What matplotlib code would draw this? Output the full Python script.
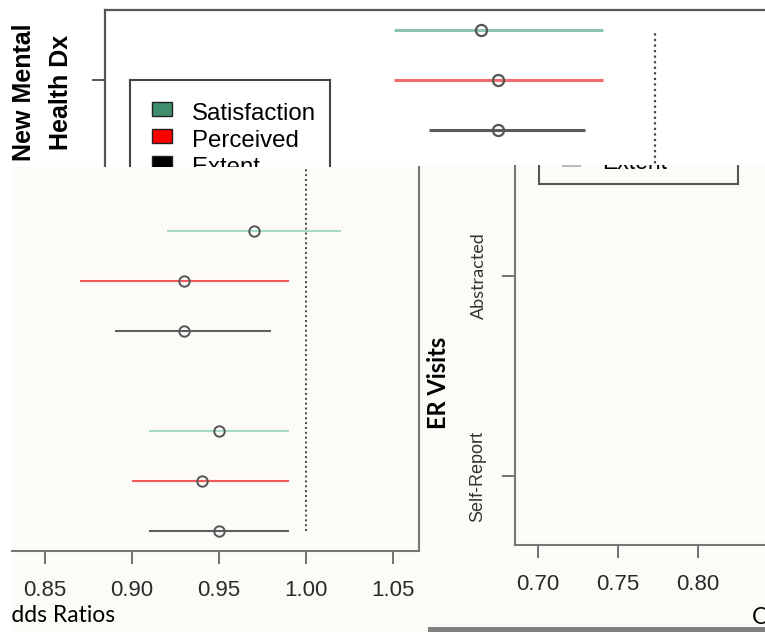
import matplotlib
matplotlib.use('Agg')
import matplotlib.pyplot as plt
from matplotlib.patches import Rectangle

# measures and their colours
measures = ['Satisfaction', 'Perceived', 'Extent']
line_cols = ['#8cc6ac', '#f26b6b', '#5a5a5a']
line_cols_low = ['#a3dbc6', '#f25a5a', '#5e5e5e']
legend_cols = ['#3f8f6f', '#ff0000', '#000000']

# New Mental Health Dx (top strip)
top_pos = [3, 2, 1]
top_or = [0.90, 0.91, 0.91]
top_lo = [0.85, 0.85, 0.87]
top_hi = [0.97, 0.97, 0.96]

# lower-left strip, two groups of three
left_pos = [7, 6, 5, 3, 2, 1]
left_or = [0.97, 0.93, 0.93, 0.95, 0.94, 0.95]
left_lo = [0.92, 0.87, 0.89, 0.91, 0.90, 0.91]
left_hi = [1.02, 0.99, 0.98, 0.99, 0.99, 0.99]
left_ticks = [0.85, 0.90, 0.95, 1.00, 1.05]

# ER visits strip
er_pos = [2, 1]
er_labels = ['Abstracted', 'Self-Report']
er_ticks = [0.70, 0.75, 0.80]

W, H = 765, 632
OFF = '#fcfbf7'
ARIAL = 'Liberation Sans'
CALIBRI = 'Lato'


def box(l, t, r, b):
    return [l / W, 1 - b / H, (r - l) / W, (b - t) / H]


def bare(ax):
    ax.set_xticks([])
    ax.set_yticks([])
    for s in ax.spines.values():
        s.set_visible(False)


fig = plt.figure(figsize=(W / 100, H / 100), dpi=100)
fig.patch.set_facecolor('white')

# ---- top strip --------------------------------------------------------
ax_top = fig.add_axes(box(105, 10, 800, 180), zorder=1)
for i in range(3):
    ax_top.plot([top_lo[i], top_hi[i]], [top_pos[i]] * 2, color=line_cols[i], lw=2.2, solid_capstyle='butt')
    ax_top.plot(top_or[i], top_pos[i], 'o', ms=8, mfc='none', mec='#555555', mew=1.6)
ax_top.vlines(1.0, 0, top_pos[0], colors='#444444', linestyles=(0, (1, 1.5)), lw=1.6)
ax_top.set_xlim(1 - 550 / 1740, 1 + 145 / 1740)
ax_top.set_ylim(0, 3.4)
ax_top.set_xticks([])
ax_top.set_yticks([2])
ax_top.set_yticklabels([])
ax_top.tick_params(axis='y', length=9.4, width=1.4, color='#555555')
for s in ['right', 'bottom']:
    ax_top.spines[s].set_visible(False)
for s in ['left', 'top']:
    ax_top.spines[s].set_color('#555555')
    ax_top.spines[s].set_linewidth(1.6)

fig.text(24 / W, 1 - 92 / H, 'New Mental', rotation=90, ha='center', va='center',
         fontsize=18, fontweight='bold', family=ARIAL)
fig.text(61 / W, 1 - 92 / H, 'Health Dx', rotation=90, ha='center', va='center',
         fontsize=18, fontweight='bold', family=ARIAL)

# legend box of the top strip
ax_leg = fig.add_axes(box(130, 80, 330, 230), zorder=1.5)
ax_leg.set_xlim(0, 200)
ax_leg.set_ylim(150, 0)
ax_leg.set_xticks([])
ax_leg.set_yticks([])
ax_leg.spines['bottom'].set_visible(False)
for s in ['left', 'top', 'right']:
    ax_leg.spines[s].set_color('#444444')
    ax_leg.spines[s].set_linewidth(1.5)
for i, name in enumerate(measures):
    yb = 40 + 27 * i
    ax_leg.add_patch(Rectangle((22, yb - 18), 20, 14, facecolor=legend_cols[i], edgecolor='#222222', lw=1))
    ax_leg.text(62, yb, name, fontsize=17.3, family=ARIAL, va='baseline', ha='left')

# ---- backgrounds of the lower screenshots ------------------------------
bg_left = fig.add_axes(box(12, 167, 419, 632), zorder=2)
bg_left.set_facecolor(OFF)
bare(bg_left)
bg_left.set_xlim(12, 419)
bg_left.set_ylim(632, 167)
t = bg_left.text(-7, 616, 'Odds Ratios', fontsize=16.5, family=CALIBRI, ha='left', va='center',
                 clip_on=True)
t.set_clip_path(bg_left.patch)

bg_right = fig.add_axes(box(419, 165, 765, 632), zorder=2)
bg_right.set_facecolor(OFF)
bare(bg_right)
bg_right.set_xlim(419, 765)
bg_right.set_ylim(632, 165)
bg_right.add_patch(Rectangle((539, 140), 199, 44, facecolor='none', edgecolor='#555555', lw=1.5, clip_on=True))
bg_right.plot([563, 580], [166.5, 166.5], color='#bbbbbb', lw=1.5, clip_on=True)
t = bg_right.text(602, 169, 'Extent', fontsize=16.5, family=ARIAL, va='baseline', ha='left',
                  clip_on=True)
t.set_clip_path(bg_right.patch)

# ---- lower-left forest strip --------------------------------------------
ax_left = fig.add_axes(box(12, 167, 419, 551), zorder=3)
ax_left.set_facecolor('none')
for i in range(6):
    c = line_cols_low[i % 3]
    ax_left.plot([left_lo[i], left_hi[i]], [left_pos[i]] * 2, color=c, lw=1.5, solid_capstyle='butt')
    ax_left.plot(left_or[i], left_pos[i], 'o', ms=7.5, mfc='none', mec='#555555', mew=1.4)
ax_left.vlines(1.0, left_pos[-1], 8.3, colors='#444444', linestyles=(0, (1, 1.5)), lw=1.4)
ax_left.set_xlim(0.85 - 33 / 1740, 0.85 + 374 / 1740)
ax_left.set_ylim(0.6, 8.28)
ax_left.set_yticks([])
ax_left.set_xticks(left_ticks)
ax_left.set_xticklabels(['%.2f' % v for v in left_ticks], family=ARIAL, fontsize=16, color='#2a2a2a')
ax_left.tick_params(axis='x', length=9.4, width=1.3, color='#666666', pad=11.5)
for s in ['left', 'top']:
    ax_left.spines[s].set_visible(False)
for s in ['right', 'bottom']:
    ax_left.spines[s].set_color('#777777')
    ax_left.spines[s].set_linewidth(1.5)

# ---- ER visits strip -----------------------------------------------------
ax_er = fig.add_axes(box(515, 166, 800, 545), zorder=3)
ax_er.set_facecolor('none')
ax_er.set_xlim(0.70 - 25 / 1740, 0.70 + 285 / 1740)
ax_er.set_ylim(0.655, 2.55)
ax_er.set_xticks(er_ticks)
ax_er.set_xticklabels(['%.2f' % v for v in er_ticks], family=ARIAL, fontsize=16, color='#2a2a2a')
ax_er.set_yticks(er_pos)
ax_er.set_yticklabels(er_labels, rotation=90, va='center', fontsize=13, color='#333333')
ax_er.get_yticklabels()[0].set_family(CALIBRI)
ax_er.get_yticklabels()[1].set_family(ARIAL)
ax_er.tick_params(axis='both', length=9.4, width=1.3, color='#666666')
ax_er.tick_params(axis='x', pad=11.5)
ax_er.tick_params(axis='y', pad=11)
for s in ['right', 'top']:
    ax_er.spines[s].set_visible(False)
for s in ['left', 'bottom']:
    ax_er.spines[s].set_color('#777777')
    ax_er.spines[s].set_linewidth(1.5)

fig.text(438 / W, 1 - 383 / H, 'ER Visits', rotation=90, ha='center', va='center',
         fontsize=17, fontweight='bold', family=CALIBRI, zorder=4)
fig.text(752 / W, 1 - 617 / H, 'Odds Ratios', ha='left', va='center',
         fontsize=16.5, family=CALIBRI, zorder=4)

# grey bar along the bottom edge
fig.add_artist(Rectangle((428 / W, 0), (765 - 428) / W, 5 / H, transform=fig.transFigure,
                         facecolor='#808080', edgecolor='none', zorder=5))

fig.savefig('out.png', dpi=100)
